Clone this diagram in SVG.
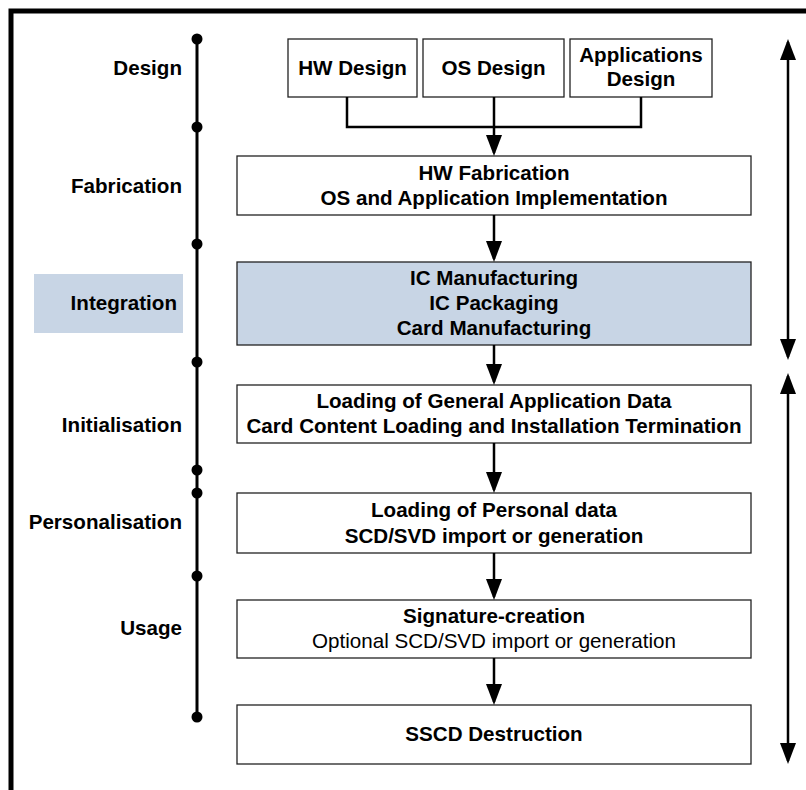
<svg xmlns="http://www.w3.org/2000/svg" width="806" height="790" viewBox="0 0 806 790">
<defs>
<style>
.box{fill:#ffffff;stroke:#222222;stroke-width:1.3}
.blue{fill:#c8d5e5}
.t{font-family:"Liberation Sans",Arial,sans-serif;font-size:20.6px;font-weight:bold;fill:#000000}
.r{font-weight:normal}
.m{text-anchor:middle}
.e{text-anchor:end}
.c{fill:none;stroke:#000000;stroke-width:2.5}
.dot{fill:#000000}
</style>
<marker id="ah" markerUnits="userSpaceOnUse" markerWidth="22" markerHeight="16" refX="18" refY="8" orient="auto-start-reverse" viewBox="0 0 22 16">
<path d="M0,0 L21,8 L0,16 z" fill="#000000"/>
</marker>
</defs>
<rect width="806" height="790" fill="#ffffff"/>
<rect x="11" y="11" width="900" height="900" fill="none" stroke="#000000" stroke-width="5"/>

<g id="timeline">
<line x1="197" y1="39" x2="197" y2="717" stroke="#000000" stroke-width="3"/>
<circle class="dot" cx="197" cy="39" r="5.5"/>
<circle class="dot" cx="197" cy="127" r="5.5"/>
<circle class="dot" cx="197" cy="244" r="5.5"/>
<circle class="dot" cx="197" cy="362" r="5.5"/>
<circle class="dot" cx="197" cy="470" r="5.5"/>
<circle class="dot" cx="197" cy="493" r="5.5"/>
<circle class="dot" cx="197" cy="576" r="5.5"/>
<circle class="dot" cx="197" cy="717" r="5.5"/>
</g>

<g id="phase-labels">
<text class="t e" x="182" y="75">Design</text>
<text class="t e" x="182" y="193">Fabrication</text>
<rect class="blue" x="34" y="274" width="149" height="59"/>
<text class="t e" x="177" y="310">Integration</text>
<text class="t e" x="182" y="432">Initialisation</text>
<text class="t e" x="182" y="529">Personalisation</text>
<text class="t e" x="182" y="635">Usage</text>
</g>

<g id="hw-design">
<rect class="box" x="288" y="39" width="129" height="58"/>
<text class="t m" x="352.5" y="75">HW Design</text>
</g>
<g id="os-design">
<rect class="box" x="423" y="39" width="141" height="58"/>
<text class="t m" x="493.5" y="75">OS Design</text>
</g>
<g id="app-design">
<rect class="box" x="570" y="39" width="142" height="58"/>
<text class="t m" x="641" y="62">Applications</text>
<text class="t m" x="641" y="86">Design</text>
</g>
<g id="fabrication">
<rect class="box" x="237" y="156" width="514" height="59"/>
<text class="t m" x="494" y="180">HW Fabrication</text>
<text class="t m" x="494" y="205">OS and Application Implementation</text>
</g>
<g id="integration">
<rect class="box blue" x="237" y="262" width="514" height="83"/>
<text class="t m" x="494" y="285">IC Manufacturing</text>
<text class="t m" x="494" y="310">IC Packaging</text>
<text class="t m" x="494" y="335">Card Manufacturing</text>
</g>
<g id="initialisation">
<rect class="box" x="237" y="385" width="514" height="58"/>
<text class="t m" x="494" y="408">Loading of General Application Data</text>
<text class="t m" x="494" y="433">Card Content Loading and Installation Termination</text>
</g>
<g id="personalisation">
<rect class="box" x="237" y="493" width="514" height="60"/>
<text class="t m" x="494" y="517">Loading of Personal data</text>
<text class="t m" x="494" y="543">SCD/SVD import or generation</text>
</g>
<g id="usage">
<rect class="box" x="237" y="600" width="514" height="58"/>
<text class="t m" x="494" y="623">Signature-creation</text>
<text class="t m r" x="494" y="648">Optional SCD/SVD import or generation</text>
</g>
<g id="destruction">
<rect class="box" x="237" y="705" width="514" height="59"/>
<text class="t m" x="494" y="741">SSCD Destruction</text>
</g>

<g id="connectors">
<polyline class="c" points="347,97 347,127 641,127 641,97"/>
<line class="c" x1="494" y1="97" x2="494" y2="153" marker-end="url(#ah)"/>
<line class="c" x1="494" y1="215" x2="494" y2="259" marker-end="url(#ah)"/>
<line class="c" x1="494" y1="345" x2="494" y2="382" marker-end="url(#ah)"/>
<line class="c" x1="494" y1="443" x2="494" y2="490" marker-end="url(#ah)"/>
<line class="c" x1="494" y1="553" x2="494" y2="597" marker-end="url(#ah)"/>
<line class="c" x1="494" y1="658" x2="494" y2="702" marker-end="url(#ah)"/>
<line class="c" x1="788" y1="42" x2="788" y2="357" marker-start="url(#ah)" marker-end="url(#ah)"/>
<line class="c" x1="788" y1="376" x2="788" y2="761" marker-start="url(#ah)" marker-end="url(#ah)"/>
</g>
</svg>
